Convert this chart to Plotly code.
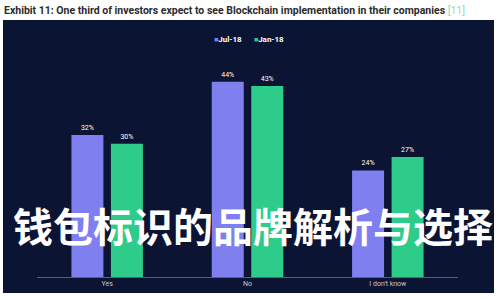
import plotly.graph_objects as go

categories = ["Yes", "No", "I don't know"]
series_names = ["Jul-18", "Jan-18"]
jul18 = [32, 44, 24]
jan18 = [30, 43, 27]
title_text = "Exhibit 11: One third of investors expect to see Blockchain implementation in their companies"
ref_text = "[11]"
overlay_text = "钱包标识的品牌解析与选择"

colors = ["#7F7FEF", "#2ECC8A"]

fig = go.Figure()
for name, vals, col in zip(series_names, [jul18, jan18], colors):
    fig.add_trace(go.Bar(
        x=categories, y=vals, name=name, marker=dict(color=col, line=dict(width=0)),
        text=[f"{v}%" for v in vals], textposition="outside",
        textfont=dict(color="white", size=7, family="Roboto"),
        cliponaxis=False,
    ))

W, H = 500, 300
PL, PR, PT, PB = 37, 42, 55, 23
PW, PH = W - PL - PR, H - PT - PB


def px(x):
    return (x - PL) / PW


def py(y):
    return (H - PB - y) / PH


fig.update_layout(
    width=W, height=H,
    margin=dict(l=PL, r=PR, t=PT, b=PB, autoexpand=False),
    paper_bgcolor="white", plot_bgcolor="rgba(0,0,0,0)",
    barmode="group", bargap=0.437, bargroupgap=0.19,
    showlegend=False,
    xaxis=dict(showgrid=False, zeroline=False, showline=True, linecolor="#5a5f73", linewidth=1,
               tickfont=dict(color="#c8c8d0", size=7, family="Roboto"), ticks="", ticklen=0),
    yaxis=dict(range=[0, 50], visible=False),
    font=dict(family="Roboto"),
)

# dark panel background
fig.add_shape(type="rect", xref="paper", yref="paper",
              x0=px(3), x1=px(494), y0=py(293), y1=py(20),
              fillcolor="#0B1433", line=dict(width=0), layer="below")

# legend (series names)
legend_html = "\u2003\u2002".join(
    f"<span style='color:{c};font-size:7px'>■</span><b>{n}</b>" for n, c in zip(series_names, colors)
)
fig.add_annotation(xref="paper", yref="paper", x=px(249), y=py(39),
                   xanchor="center", yanchor="middle", showarrow=False,
                   text=legend_html, font=dict(color="white", size=8, family="Roboto"))

# title
fig.add_annotation(xref="paper", yref="paper", x=px(2), y=py(10),
                   xanchor="left", yanchor="middle", showarrow=False,
                   text=f"<b>{title_text}</b> <span style='color:#8fd9bf'>{ref_text}</span>",
                   font=dict(color="#2b2b2b", size=10.5, family="Roboto"))

# overlay Chinese text
fig.add_annotation(xref="paper", yref="paper", x=px(253), y=py(225),
                   xanchor="center", yanchor="middle", showarrow=False,
                   text=f"<b>{overlay_text}</b>",
                   font=dict(color="white", size=40, family="Noto Sans CJK SC"))

fig.write_html("out.html")
